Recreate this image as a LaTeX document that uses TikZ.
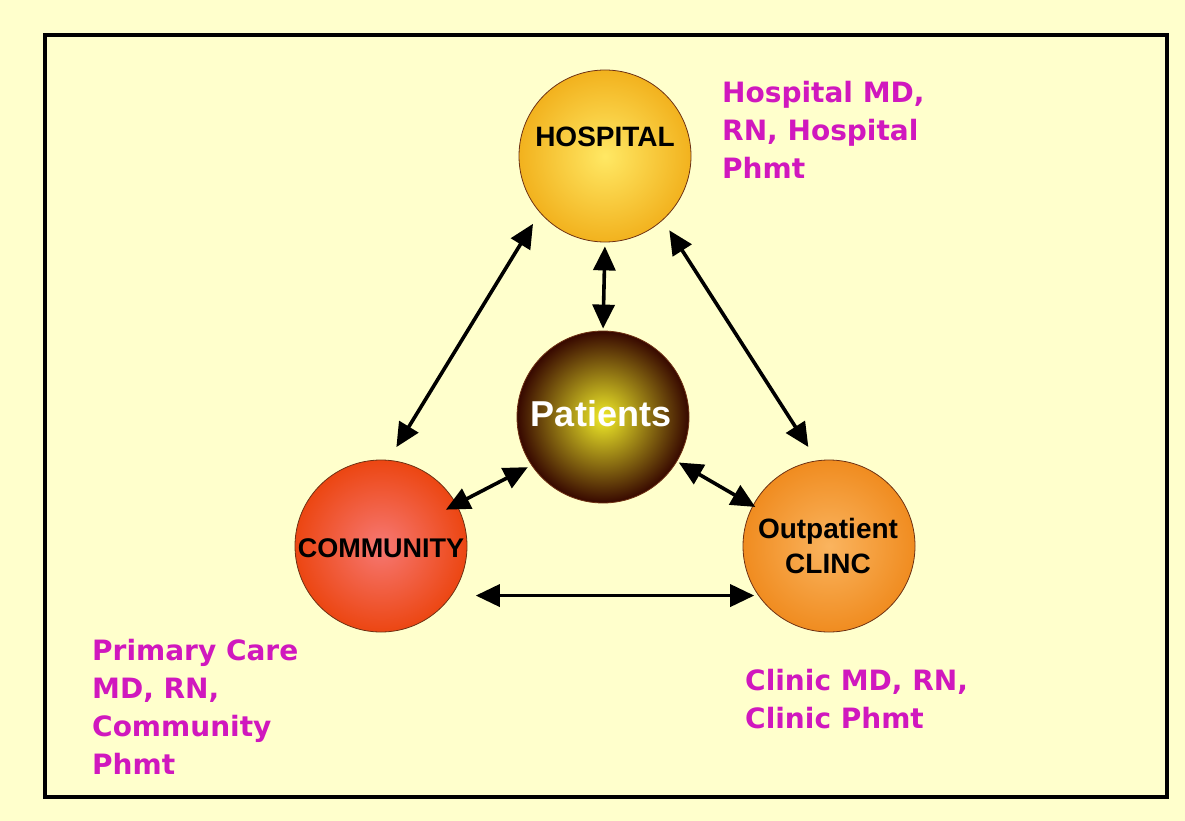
\documentclass[tikz,border=0pt]{standalone}
\usepackage{fontspec}
\setmainfont{Liberation Sans}
\newfontfamily\notefont{DejaVu Sans}
\usetikzlibrary{arrows.meta}
\definecolor{bgyellow}{RGB}{255,255,204}
\definecolor{notecol}{RGB}{208,24,190}
\definecolor{rimcol}{RGB}{110,50,20}
\definecolor{hosin}{RGB}{255,232,100}
\definecolor{hosout}{RGB}{242,178,30}
\definecolor{patin}{RGB}{240,235,40}
\definecolor{patout}{RGB}{55,8,0}
\definecolor{comin}{RGB}{246,120,115}
\definecolor{comout}{RGB}{236,70,18}
\definecolor{outin}{RGB}{250,180,95}
\definecolor{outout}{RGB}{240,140,32}
\tikzset{
  ball/.style={circle, minimum size=172pt, inner sep=0pt, draw=rimcol, line width=0.8pt, shading=radial},
  lab/.style={font=\bfseries\fontsize{28}{35}\selectfont, align=center},
  note/.style={font=\notefont\bfseries\fontsize{28}{38}\selectfont, text=notecol, align=left, anchor=north west, inner sep=0pt},
  link/.style={{Triangle[length=24pt,width=22pt]}-{Triangle[length=24pt,width=22pt]}, line width=3.6pt}
}
\begin{document}
\begin{tikzpicture}[x=1pt,y=-1pt]
\fill[bgyellow] (0,0) rectangle (1185,821);
\useasboundingbox (0,0) rectangle (1185,821);
\draw[line width=3.5pt] (45,35) rectangle (1167,797);

\node[ball, inner color=hosin, outer color=hosout] (hosp) at (605,156) {};
\node[ball, inner color=patin, outer color=patout] (pat) at (603,417) {};
\node[ball, inner color=comin, outer color=comout] (comm) at (381,546) {};
\node[ball, inner color=outin, outer color=outout] (outp) at (829,546) {};

\node[lab] (hospl) at (605,137) {HOSPITAL};
\node[lab, text=white, font=\bfseries\fontsize{36}{40}\selectfont] (patl) at (601,414) {Patients};
\node[lab, font=\bfseries\fontsize{27}{35}\selectfont] (comml) at (381,548) {COMMUNITY};
\node[lab] (outpl) at (828,546) {Outpatient\\CLINC};

\node[note] (hnote) at (722,81) {Hospital MD,\\RN, Hospital\\Phmt};
\node[note] (cnote) at (92,639) {Primary Care\\MD, RN,\\Community\\Phmt};
\node[note] (onote) at (745,669) {Clinic MD, RN,\\Clinic Phmt};

\draw[link, shorten <=4pt, shorten >=2pt] (hosp.south) -- (pat.north);
\draw[link, shorten <=13pt, shorten >=15pt] (hosp.221) -- (comm.85);
\draw[link, shorten <=12pt, shorten >=16pt] (hosp.312) -- (outp.98);
\draw[link, shorten <=4pt, shorten >=-12pt] (pat.214) -- (comm.29);
\draw[link, shorten <=2pt, shorten >=-3pt] (pat.329) -- (outp.152);
\draw[link, shorten <=24pt, shorten >=4pt] (comm.-35) -- (outp.215);
\end{tikzpicture}
\end{document}
